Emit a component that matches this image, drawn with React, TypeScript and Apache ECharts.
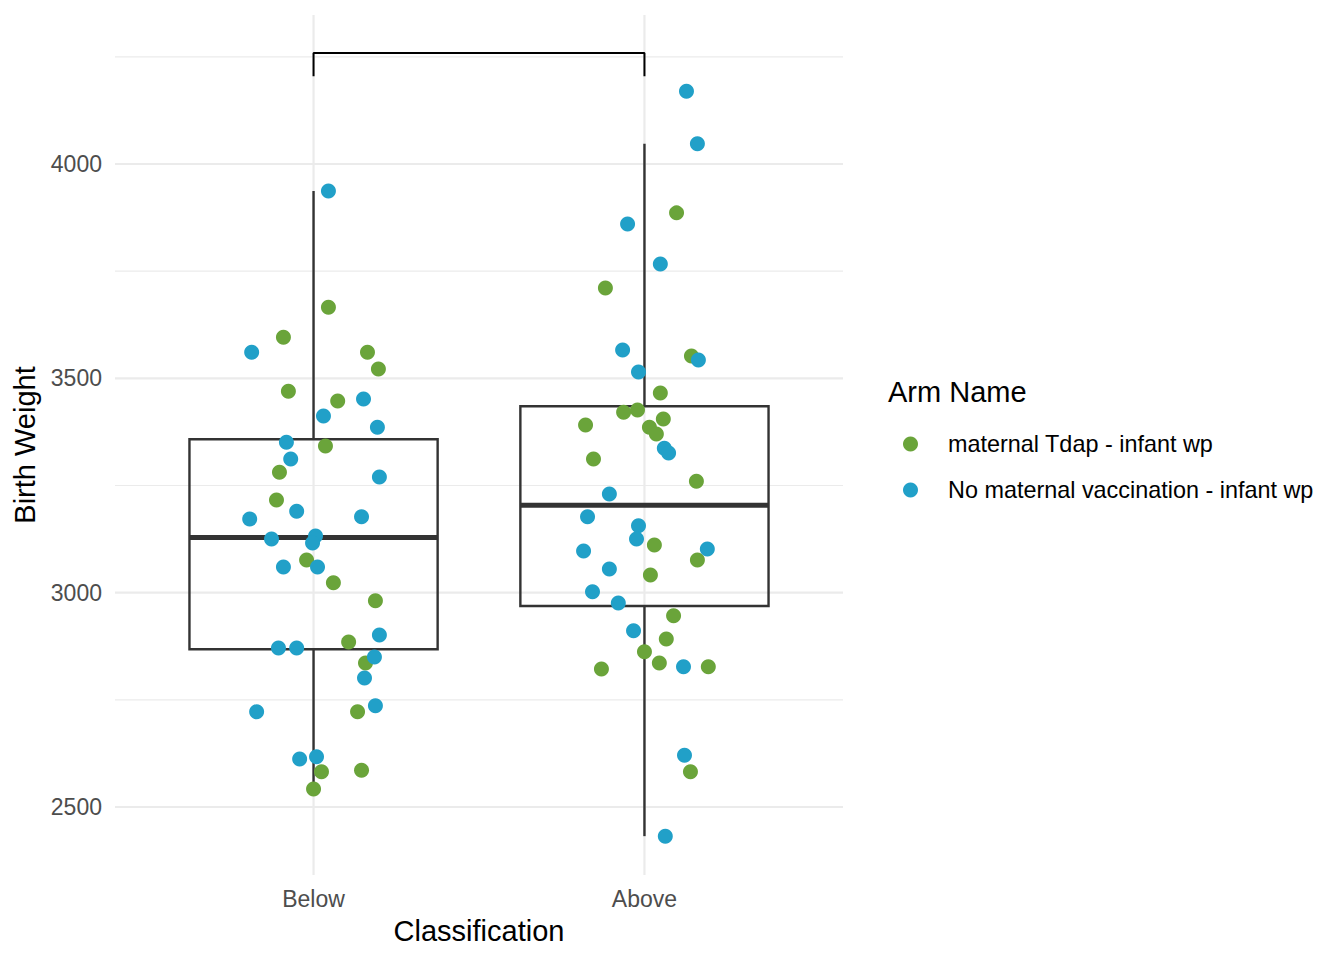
import React, { useEffect, useRef } from "react";
import * as echarts from "echarts";

const categories = ["Below", "Above"];
const seriesNames = ["maternal Tdap - infant wp", "No maternal vaccination - infant wp"];
const colors = ["#6aa43a", "#21a0c8"];

// jittered x (category index 1 = Below, 2 = Above), y = birth weight
const tdapX = [0.909, 1.045, 0.924, 1.163, 1.196, 1.073, 1.036, 0.897, 0.888, 0.979, 1.06, 1.187, 1.106, 1.157, 1.133, 1.024, 1.145, 1.0,
  2.097, 1.882, 2.142, 2.048, 1.979, 1.937, 2.057, 2.015, 2.036, 1.822, 1.846, 2.157, 2.03, 2.16, 2.018, 2.088, 2.066, 2.0, 2.045, 2.193, 1.87, 2.139];
const tdapY = [3596, 3666, 3470, 3561, 3522, 3447, 3342, 3281, 3216, 3076, 3023, 2981, 2885, 2836, 2722, 2582, 2586, 2542,
  3886, 3711, 3552, 3466, 3426, 3421, 3405, 3386, 3370, 3391, 3312, 3260, 3111, 3076, 3041, 2946, 2892, 2862, 2836, 2827, 2822, 2582];
const noVacX = [1.045, 0.813, 1.03, 1.151, 1.193, 0.918, 0.931, 1.199, 0.807, 0.949, 1.145, 0.873, 1.006, 0.997, 0.909, 1.012, 1.199, 0.894, 0.949, 1.184, 1.154, 1.187, 0.828, 0.958, 1.009,
  2.127, 2.16, 1.949, 2.048, 1.934, 2.163, 1.982, 2.06, 2.073, 1.894, 1.828, 1.982, 1.976, 2.19, 1.816, 1.894, 1.843, 1.921, 1.967, 2.118, 2.121, 2.063];
const noVacY = [3937, 3561, 3412, 3452, 3386, 3351, 3312, 3270, 3172, 3190, 3177, 3125, 3132, 3116, 3060, 3060, 2901, 2871, 2871, 2850, 2801, 2736, 2722, 2612, 2617,
  4170, 4047, 3860, 3767, 3566, 3543, 3515, 3337, 3326, 3230, 3177, 3156, 3125, 3102, 3097, 3055, 3002, 2976, 2911, 2827, 2621, 2432];

// box statistics per category
const boxLow = [2542, 2432];
const boxQ1 = [2868, 2969];
const boxMedian = [3129, 3204];
const boxQ3 = [3358, 3435];
const boxHigh = [3937, 4047];

const yTicks = [2500, 3000, 3500, 4000];
const yMinor = [2750, 3250, 3750, 4250];
const yMin = 2341.4;
const yMax = 4347.6;

const bracketX = [1, 1, 2, 2];
const bracketY = [4205, 4259, 4259, 4205];

const FONT = "'Liberation Sans', Arial, Helvetica, sans-serif";

export default function App() {
  const ref = useRef<HTMLDivElement>(null);
  useEffect(() => {
    document.body.style.margin = "0";
    if (!ref.current) return;
    const chart = echarts.init(ref.current, null, { renderer: "svg" });

    const hGrid = (major: boolean) => (params: any, api: any) => {
      const cs = params.coordSys;
      const p = api.coord([1, api.value(1)]);
      return {
        type: "line",
        shape: { x1: cs.x, y1: p[1], x2: cs.x + cs.width, y2: p[1] },
        style: { stroke: "#ebebeb", lineWidth: major ? 2.2 : 1.2 },
        silent: true,
      };
    };
    const vGrid = (params: any, api: any) => {
      const cs = params.coordSys;
      const p = api.coord([api.value(0), yMin]);
      return {
        type: "line",
        shape: { x1: p[0], y1: cs.y, x2: p[0], y2: cs.y + cs.height },
        style: { stroke: "#ebebeb", lineWidth: 2.2 },
        silent: true,
      };
    };
    const boxRender = (params: any, api: any) => {
      const x = api.value(0);
      const lo = api.coord([x, api.value(1)]);
      const q1 = api.coord([x, api.value(2)]);
      const med = api.coord([x, api.value(3)]);
      const q3 = api.coord([x, api.value(4)]);
      const hi = api.coord([x, api.value(5)]);
      const w = api.size([0.75, 0])[0];
      const stroke = "#333333";
      return {
        type: "group",
        children: [
          { type: "line", shape: { x1: hi[0], y1: hi[1], x2: q3[0], y2: q3[1] }, style: { stroke, lineWidth: 2.4 } },
          { type: "line", shape: { x1: q1[0], y1: q1[1], x2: lo[0], y2: lo[1] }, style: { stroke, lineWidth: 2.4 } },
          { type: "rect", shape: { x: q3[0] - w / 2, y: q3[1], width: w, height: q1[1] - q3[1] }, style: { fill: "none", stroke, lineWidth: 2.4 } },
          { type: "line", shape: { x1: med[0] - w / 2, y1: med[1], x2: med[0] + w / 2, y2: med[1] }, style: { stroke, lineWidth: 5 } },
        ],
      };
    };

    const option: any = {
      animation: false,
      backgroundColor: "#ffffff",
      textStyle: { fontFamily: FONT },
      title: {
        text: "Arm Name",
        left: 888,
        top: 377,
        padding: 0,
        textStyle: { fontFamily: FONT, fontSize: 29, fontWeight: "normal", color: "#000000" },
      },
      legend: {
        orient: "vertical",
        left: 898,
        top: 427,
        itemWidth: 15,
        itemHeight: 15,
        itemGap: 22,
        icon: "circle",
        data: seriesNames,
        textStyle: { fontFamily: FONT, fontSize: 23.4, color: "#000000", lineHeight: 24, padding: [0, 0, 0, 25] },
      },
      grid: { left: 115, right: 501, top: 15, bottom: 85 },
      xAxis: {
        type: "value",
        min: 0.4,
        max: 2.6,
        name: "Classification",
        nameLocation: "middle",
        nameGap: 41,
        nameTextStyle: { fontFamily: FONT, fontSize: 29, color: "#000000" },
        axisLine: { show: false },
        axisTick: { show: false },
        splitLine: { show: false },
        axisLabel: {
          customValues: [1, 2],
          formatter: (v: number) => categories[Math.round(v) - 1] ?? "",
          fontFamily: FONT,
          fontSize: 23,
          color: "#4d4d4d",
          margin: 12,
        },
      },
      yAxis: {
        type: "value",
        min: yMin,
        max: yMax,
        name: "Birth Weight",
        nameLocation: "middle",
        nameRotate: 90,
        nameGap: 76,
        nameTextStyle: { fontFamily: FONT, fontSize: 29, color: "#000000" },
        axisLine: { show: false },
        axisTick: { show: false },
        splitLine: { show: false },
        axisLabel: {
          customValues: yTicks,
          formatter: (v: number) => String(Math.round(v)),
          fontFamily: FONT,
          fontSize: 23,
          color: "#4d4d4d",
          margin: 13,
        },
      },
      series: [
        { type: "custom", name: "minorGrid", silent: true, z: 0, renderItem: hGrid(false), data: yMinor.map((v) => [1, v]), encode: { x: 0, y: 1 } },
        { type: "custom", name: "majorGrid", silent: true, z: 0, renderItem: hGrid(true), data: yTicks.map((v) => [1, v]), encode: { x: 0, y: 1 } },
        { type: "custom", name: "xGrid", silent: true, z: 0, renderItem: vGrid, data: categories.map((_, i) => [i + 1, yMin]), encode: { x: 0, y: 1 } },
        {
          type: "custom",
          name: "box",
          silent: true,
          z: 1,
          renderItem: boxRender,
          data: categories.map((_, i) => [i + 1, boxLow[i], boxQ1[i], boxMedian[i], boxQ3[i], boxHigh[i]]),
          encode: { x: 0, y: [1, 2, 3, 4, 5] },
        },
        {
          type: "line",
          name: "bracket",
          silent: true,
          z: 1,
          symbol: "none",
          lineStyle: { color: "#000000", width: 2 },
          data: bracketX.map((x, i) => [x, bracketY[i]]),
        },
        {
          type: "scatter",
          name: seriesNames[0],
          z: 3,
          symbolSize: 15,
          itemStyle: { color: colors[0], opacity: 1 },
          data: tdapX.map((x, i) => [x, tdapY[i]]),
        },
        {
          type: "scatter",
          name: seriesNames[1],
          z: 3,
          symbolSize: 15,
          itemStyle: { color: colors[1], opacity: 1 },
          data: noVacX.map((x, i) => [x, noVacY[i]]),
        },
      ],
    };
    chart.setOption(option);
    return () => chart.dispose();
  }, []);
  return <div ref={ref} style={{ width: 1344, height: 960 }} />;
}
